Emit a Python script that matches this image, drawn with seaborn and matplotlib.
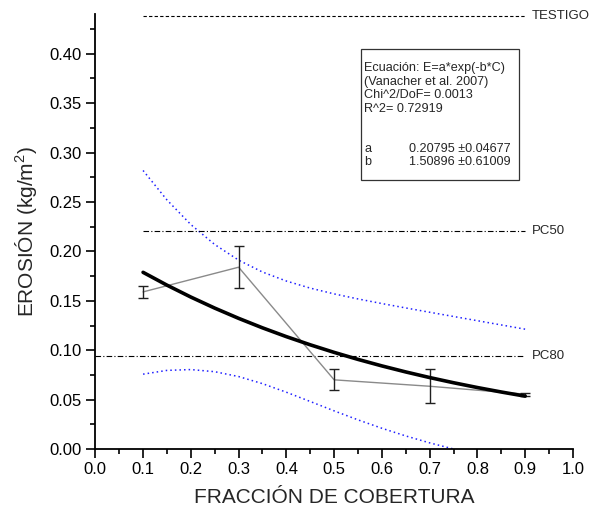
import matplotlib
matplotlib.use("Agg")
import matplotlib.pyplot as plt
import matplotlib.patches as mpatches
import seaborn as sns
import pandas as pd

# --- data -------------------------------------------------------------
cover = [0.1, 0.3, 0.5, 0.7, 0.9]
erosion = [0.159, 0.184, 0.070, 0.0635, 0.0555]
erosion_err = [0.0064, 0.021, 0.0105, 0.0173, 0.0015]

curve_x = [0.10, 0.15, 0.20, 0.25, 0.30, 0.35, 0.40, 0.45, 0.50,
           0.55, 0.60, 0.65, 0.70, 0.75, 0.80, 0.85, 0.90]
fit_y = [0.17882, 0.16583, 0.15378, 0.14260, 0.13224, 0.12263, 0.11372, 0.10545, 0.09779,
         0.09068, 0.08409, 0.07798, 0.07231, 0.06706, 0.06219, 0.05767, 0.05348]
upper_y = [0.28190, 0.25209, 0.22716, 0.20696, 0.19116, 0.17912, 0.16998, 0.16283, 0.15698,
           0.15188, 0.14720, 0.14276, 0.13841, 0.13412, 0.12984, 0.12555, 0.12126]
lower_y = [0.07574, 0.07957, 0.08040, 0.07824, 0.07332, 0.06614, 0.05746, 0.04807, 0.03860,
           0.02948, 0.02098, 0.01320, 0.00621, 0.00000, -0.00546, -0.01021, -0.01430]

ref_names = ["TESTIGO", "PC50", "PC80"]
ref_values = [0.4383, 0.2206, 0.0941]
ref_start = [0.1, 0.1, 0.0]
ref_end = [0.9, 0.9, 0.9]

box_lines = ["Ecuación: E=a*exp(-b*C)", "(Vanacher et al. 2007)",
             "Chi^2/DoF= 0.0013", "R^2= 0.72919"]
param_names = ["a", "b"]
param_values = ["0.20795 \u00b10.04677", "1.50896 \u00b10.61009"]

x_ticks = [0.0, 0.1, 0.2, 0.3, 0.4, 0.5, 0.6, 0.7, 0.8, 0.9, 1.0]
y_ticks = [0.00, 0.05, 0.10, 0.15, 0.20, 0.25, 0.30, 0.35, 0.40]

# --- style ------------------------------------------------------------
sns.set_style("ticks")
plt.rcParams["font.family"] = ["Liberation Sans", "DejaVu Sans"]
plt.rcParams["mathtext.fontset"] = "custom"
plt.rcParams["mathtext.rm"] = "Liberation Sans"
plt.rcParams["mathtext.it"] = "Liberation Sans:italic"

fig = plt.figure(figsize=(5.89, 5.16), dpi=100)
ax = fig.add_axes([95.3 / 589, (516 - 449) / 516, 477.7 / 589, 0.44 * 988 / 516])

df_curve = pd.DataFrame({"x": curve_x, "fit": fit_y, "up": upper_y, "lo": lower_y})
df_pts = pd.DataFrame({"x": cover, "y": erosion})

# confidence bands
sns.lineplot(data=df_curve, x="x", y="up", ax=ax, color="#2020ff",
             linestyle=(0, (1, 2)), linewidth=1.1)
sns.lineplot(data=df_curve, x="x", y="lo", ax=ax, color="#2020ff",
             linestyle=(0, (1, 2)), linewidth=1.1)

# reference lines
styles = [(0, (3, 2)), (0, (5, 2, 1, 2)), (0, (5, 2, 1, 2))]
for name, v, s, e, ls in zip(ref_names, ref_values, ref_start, ref_end, styles):
    ax.plot([s, e], [v, v], color="black", linestyle=ls, linewidth=0.8)
    ax.text(e + 0.0135, v, name, fontsize=9.5, va="center", ha="left",
            clip_on=False)

# data points: gray connecting line + error bars
sns.lineplot(data=df_pts, x="x", y="y", ax=ax, color="#8a8a8a", linewidth=1.0)
ax.errorbar(cover, erosion, yerr=erosion_err, fmt="none", ecolor="#202020",
            elinewidth=1.0, capsize=3.4, capthick=1.0)

# fit curve
sns.lineplot(data=df_curve, x="x", y="fit", ax=ax, color="black", linewidth=2.6)

# info box
box = mpatches.Rectangle((0.5568, 0.2723), 0.888 - 0.5568, 0.4049 - 0.2723,
                         facecolor="white", edgecolor="#333333", linewidth=0.9,
                         zorder=5)
ax.add_patch(box)
y0 = 0.3853
dy = 0.01356
fs_box = 9.1
for i, line in enumerate(box_lines):
    ax.text(0.5626, y0 - i * dy, line, fontsize=fs_box, va="center", ha="left", zorder=6)
for j, (n, v) in enumerate(zip(param_names, param_values)):
    yy = y0 - (6 + j) * dy
    ax.text(0.5626, yy, n, fontsize=fs_box, va="center", ha="left", zorder=6)
    ax.text(0.6573, yy, v, fontsize=fs_box, va="center", ha="left", zorder=6)

# axes
ax.set_xlim(0, 1.0)
ax.set_ylim(0, 0.44)
ax.set_xticks(x_ticks)
ax.set_xticklabels([f"{t:.1f}" for t in x_ticks])
ax.set_yticks(y_ticks)
ax.set_yticklabels([f"{t:.2f}" for t in y_ticks])
ax.set_xticks([t + 0.05 for t in x_ticks[:-1]], minor=True)
ax.set_yticks([t + 0.025 for t in y_ticks], minor=True)
ax.tick_params(axis="both", which="major", direction="out", length=6.5, width=1.2,
               labelsize=12, color="black", labelcolor="black", pad=3)
ax.tick_params(axis="both", which="minor", direction="out", length=3.5, width=1.2,
               color="black")
for side in ["left", "bottom"]:
    ax.spines[side].set_linewidth(1.3)
    ax.spines[side].set_color("black")
sns.despine(ax=ax)

ax.set_xlabel("FRACCIÓN DE COBERTURA", fontsize=15, labelpad=8)
ax.set_ylabel("EROSIÓN (kg/m$^\\mathregular{2}$)", fontsize=15, labelpad=8)

fig.savefig("out.png", dpi=100)
